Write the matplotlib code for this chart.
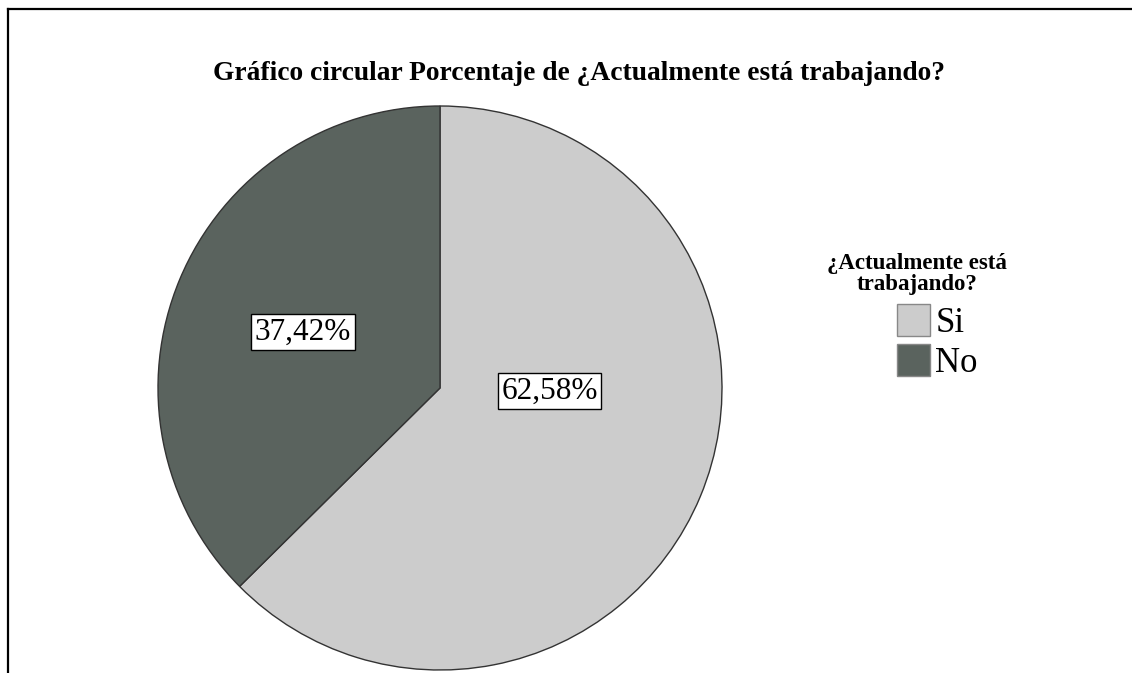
import matplotlib
matplotlib.use("Agg")
import matplotlib.pyplot as plt
from matplotlib.lines import Line2D
from matplotlib.patches import Patch

plt.rcParams['font.family'] = ['Liberation Serif', 'DejaVu Serif']

categories = ["Si", "No"]
values = [62.58, 37.42]
colors = ["#cccccc", "#5a635e"]
title = "Gráfico circular Porcentaje de ¿Actualmente está trabajando?"
legend_title = "¿Actualmente está\ntrabajando?"

W, H = 1132, 673
fig = plt.figure(figsize=(W / 100, H / 100), dpi=100)
fig.patch.set_facecolor("white")

# frame lines (top and left)
fig.add_artist(Line2D([8 / W, 1], [1 - 8.5 / H, 1 - 8.5 / H], color="black", lw=1.6,
                      transform=fig.transFigure))
fig.add_artist(Line2D([8 / W, 8 / W], [0, 1 - 8.5 / H], color="black", lw=1.6,
                      transform=fig.transFigure))

cx, cy, r = 440, 388, 282
ax = fig.add_axes([(cx - r) / W, (H - cy - r) / H, 2 * r / W, 2 * r / H])
wedges, _ = ax.pie(values, colors=colors, startangle=90, counterclock=False,
                   wedgeprops=dict(edgecolor="#333333", linewidth=1.0))
ax.set_xlim(-1, 1)
ax.set_ylim(-1, 1)
ax.set_aspect("equal")
ax.axis("off")

label_pos = [(0.388, -0.012), (-0.486, 0.199)]
for v, (x, y) in zip(values, label_pos):
    ax.text(x, y, f"{v:.2f}%".replace(".", ","), ha="center", va="center",
            fontsize=22.5, color="black",
            bbox=dict(boxstyle="square,pad=0.11", fc="white", ec="black", lw=1.0))

fig.text(579 / W, 1 - 80 / H, title, ha="center", va="baseline",
         fontsize=19.8, fontweight="bold")

fig.text(917 / W, 1 - 274 / H, legend_title, ha="center", va="center",
         fontsize=16.5, fontweight="bold", multialignment="center", linespacing=1.0)

handles = [Patch(facecolor=c, edgecolor="#888888", lw=1.0, label=l)
           for c, l in zip(colors, categories)]
leg = fig.legend(handles=handles, loc="upper left",
                 bbox_to_anchor=(897 / W, 1 - 304 / H), frameon=False,
                 prop=dict(size=25), handlelength=0.95, handleheight=1.05,
                 handletextpad=0.15, labelspacing=0.12, borderpad=0,
                 borderaxespad=0)

fig.savefig("out.png", dpi=100, facecolor="white")
